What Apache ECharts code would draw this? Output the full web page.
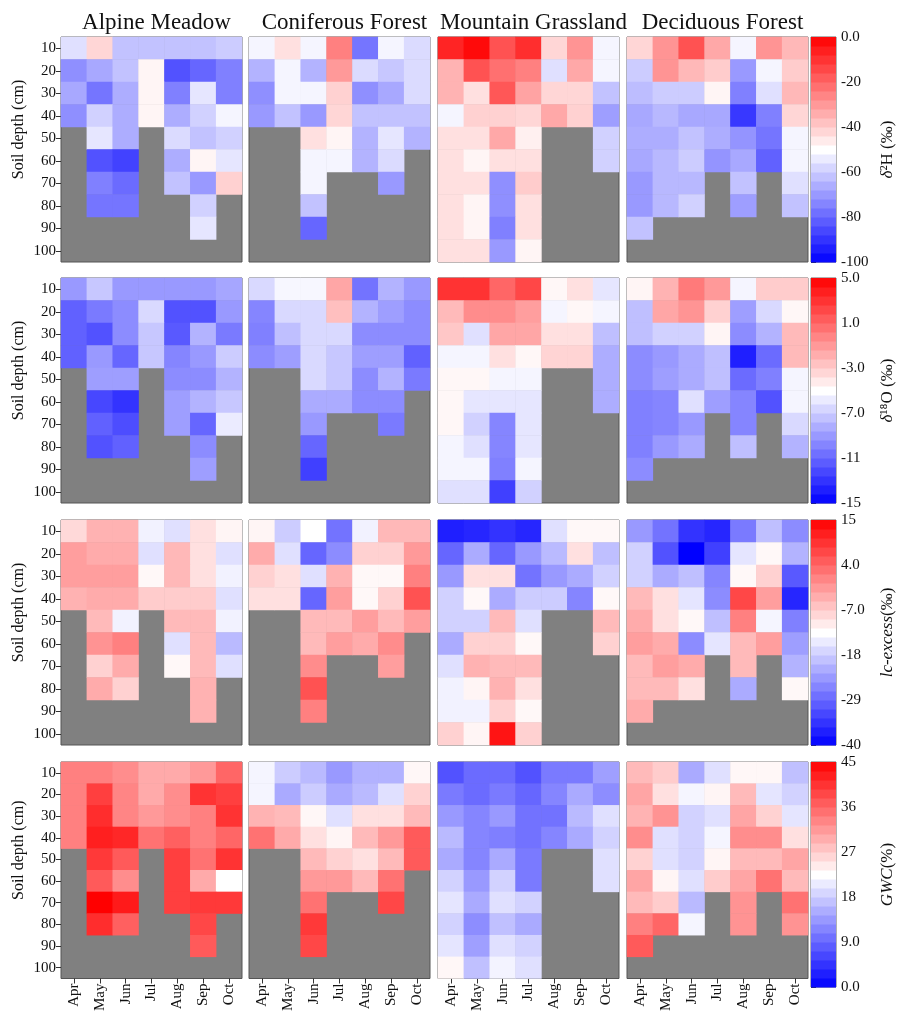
<!DOCTYPE html>
<html>
<head>
<meta charset="utf-8">
<script src="https://cdn.jsdelivr.net/npm/echarts@6/dist/echarts.min.js"></script>
<style>html,body{margin:0;padding:0;background:#fff;}#c{width:897px;height:1014px;}</style>
</head>
<body>
<div id="c"></div>
<script>
const N = null;
const months = ['Apr','May','Jun','Jul','Aug','Sep','Oct'];
const depths = ['10','20','30','40','50','60','70','80','90','100'];
const sites = ['Alpine Meadow','Coniferous Forest','Mountain Grassland','Deciduous Forest'];

// rows = depth (10..100), columns = month (Apr..Oct); null = no sample
const d2H_AM = [
[-56,-42,-62,-62,-62,-62,-60],
[-72,-67,-62,-48,-84,-80,-75],
[-67,-77,-66,-48,-75,-55,-75],
[-72,-59,-66,-48,-66,-59,-52],
[N,-55,-66,N,-57,-62,-59],
[N,-84,-87,N,-66,-48,-55],
[N,-75,-79,N,-62,-70,-41],
[N,-77,-77,N,N,-59,N],
[N,N,N,N,N,-55,N],
[N,N,N,N,N,N,N]];
const d2H_CF = [
[-52,-44,-52,-25,-77,-52,-57],
[-65,-52,-65,-30,-57,-61,-57],
[-72,-52,-52,-41,-72,-67,-57],
[-70,-62,-70,-42,-62,-62,-62],
[N,N,-44,-48,-65,-55,-65],
[N,N,-52,-52,-65,-57,N],
[N,N,-52,N,N,-70,N],
[N,N,-62,N,N,N,N],
[N,N,-80,N,N,N,N],
[N,N,N,N,N,N,N]];
const d2H_MG = [
[-7,-2,-16,-9,-42,-29,-52],
[-35,-16,-22,-25,-56,-33,-52],
[-35,-44,-17,-32,-42,-42,-62],
[-52,-41,-41,-42,-33,-41,-69],
[-44,-44,-33,-47,N,N,-59],
[-44,-48,-44,-44,N,N,-59],
[-44,-44,-72,-40,N,N,N],
[-44,-48,-72,-44,N,N,N],
[-44,-48,-75,-44,N,N,N],
[-44,-44,-70,-48,N,N,N]];
const d2H_DF = [
[-42,-29,-16,-33,-52,-29,-36],
[-60,-29,-36,-40,-70,-52,-40],
[-63,-60,-60,-48,-75,-56,-36],
[-67,-64,-67,-67,-89,-75,-42],
[-66,-66,-62,-66,-71,-77,-52],
[-67,-64,-60,-71,-67,-81,-52],
[-70,-64,-64,N,-62,N,-56],
[-70,-64,-59,N,-69,N,-62],
[-62,N,N,N,N,N,N],
[N,N,N,N,N,N,N]];

const d18O_AM = [
[-9,-7.2,-9,-9,-9,-9,-8.5],
[-11.2,-10.2,-9.5,-6.5,-11.8,-11.8,-9],
[-11.2,-11.8,-9.5,-7.2,-11.5,-8,-10.2],
[-11.2,-9,-11,-7.2,-9.8,-9,-7],
[N,-8.8,-8.8,N,-9.5,-9.5,-8],
[N,-12.2,-13,N,-8.8,-8,-7.2],
[N,-11.2,-12,N,-8.8,-11,-5.8],
[N,-11.8,-11.2,N,N,-9.5,N],
[N,N,N,N,N,-8.8,N],
[N,N,N,N,N,N,N]];
const d18O_CF = [
[-6.5,-5.3,-5.3,-1.5,-10.5,-8,-9],
[-9.8,-6.5,-6.5,-2.5,-8,-8.8,-9.5],
[-10,-7.5,-6.5,-6.5,-9.5,-9.5,-9.5],
[-9.5,-8.8,-6.5,-7.2,-8.8,-8.8,-11.2],
[N,N,-6.5,-7.2,-9.5,-8,-10.2],
[N,N,-8.3,-8.3,-9.5,-9.5,N],
[N,N,-9,N,N,-10.2,N],
[N,N,-11,N,N,N,N],
[N,N,-12.5,N,N,N,N],
[N,N,N,N,N,N,N]];
const d18O_MG = [
[3,3,1,2.2,-4.7,-3.8,-6],
[-2.3,-0.5,-0.5,-1.2,-5.4,-4.7,-5.4],
[-2.8,-6.2,-1.5,-1.5,-3.8,-3.8,-7.5],
[-5.4,-5.4,-3.8,-4.7,-3.3,-3.3,-8.2],
[-4.7,-4.7,-5.4,-5.4,N,N,-8.2],
[-4.7,-6,-6,-6,N,N,-8.2],
[-4.7,-6.8,-9.8,-6,N,N,N],
[-5.4,-6.2,-9.8,-6,N,N,N],
[-5.4,-5.4,-10,-5.4,N,N,N],
[-6.2,-6.2,-12.5,-6.8,N,N,N]];
const d18O_DF = [
[-4.6,-2,0.2,-1,-5.4,-3,-3],
[-7.5,-1.5,-0.8,-3.2,-8.8,-6.5,-4.7],
[-7.5,-6.8,-6.8,-4.6,-9.5,-8,-2.3],
[-9.5,-9,-8.3,-7.5,-13.8,-10.8,-2.3],
[-9.5,-8.8,-8.3,-7.5,-10.8,-10,-5.4],
[-10,-9.8,-6.2,-8.8,-9.8,-11.8,-5.4],
[-10,-9.8,-9,N,-9.8,N,-6.5],
[-10,-9,-8.3,N,-7.5,N,-8],
[-9.5,N,N,N,N,N,N],
[N,N,N,N,N,N,N]];

const lc_AM = [
[-8.4,-4.2,-4.2,-13.9,-15.8,-9.2,-11.4],
[-2,-3.4,-3.4,-15.8,-4.8,-9.2,-15.8],
[-2,-2,-2,-11.7,-4.8,-9.2,-13.9],
[-4.2,-3.4,-3.4,-7,-7,-7,-15.8],
[N,-5.1,-13.9,N,-5.1,-5.1,-13.9],
[N,-0.9,1.2,N,-15.8,-5.1,-19.9],
[N,-7.5,-3.4,N,-11.7,-5.1,-15.8],
[N,-3.4,-7.5,N,N,-4.2,N],
[N,N,N,N,N,-4.2,N],
[N,N,N,N,N,N,N]];
const lc_CF = [
[-11.4,-18,-12.5,-27.6,-13.9,-4.8,-4.8],
[-3.4,-15.8,-29,-24.9,-7.5,-7.5,-1.5],
[-7.5,-9.2,-15.8,-4.2,-11.7,-11.7,1.2],
[-9.2,-9.2,-29,-2,-11.7,-7.5,6.2],
[N,N,-5.1,-5.1,-2,-5.1,-2],
[N,N,-5.1,-2,-3.4,-0.1,N],
[N,N,-0.1,N,N,-2,N],
[N,N,6.2,N,N,N,N],
[N,N,1.2,N,N,N,N],
[N,N,N,N,N,N,N]];
const lc_MG = [
[-36.7,-35.9,-34.5,-35.9,-15.8,-11.7,-11.7],
[-29,-21.6,-29,-23.5,-19.9,-9.2,-19.4],
[-23.5,-9.2,-9.2,-27.6,-23.5,-21.6,-17.5],
[-17.5,-11.7,-21.6,-18,-18,-25.7,-11.7],
[-17.5,-17.5,-5.1,-15.8,N,N,-5.1],
[-21.6,-7.5,-7.5,-11.7,N,N,-7.5],
[-15.8,-4.2,-5.1,-5.1,N,N,N],
[-13.9,-11.4,-4.2,-9.2,N,N,N],
[-13.9,-13.9,-7.5,-11.7,N,N,N],
[-7.5,-11.4,12.8,-7.5,N,N,N]];
const lc_DF = [
[-23.5,-27.6,-34.5,-35.9,-26.8,-19.4,-24.9],
[-17.5,-31.2,-40,-33.1,-15.3,-11.7,-20.7],
[-17.5,-21.6,-19.4,-25.7,-11.7,-7.5,-30.4],
[-5.1,-9.2,-15.3,-24.9,7.3,-2,-35.9],
[-3.4,-9.2,-11.7,-19.4,1.2,-13.6,-26.2],
[-2,-3.4,-24.9,-15.3,-5.1,-2,-23],
[-5.1,-2,-3.4,N,-5.1,N,-20.7],
[-5.1,-5.1,-9.2,N,-21.6,N,-11.7],
[-3.4,N,N,N,N,N,N],
[N,N,N,N,N,N,N]];

const gwc_AM = [
[33.7,33.7,32.6,30,30,31.5,36],
[33.7,39.4,33.3,30,32.6,40.5,39.4],
[33.7,41,33.3,31.5,32.6,33.7,40.5],
[33.7,42.3,41.6,34.9,36.5,33.7,36],
[N,40,37.1,N,39.4,34.9,40.5],
[N,37.1,32.6,N,39.4,30,22.5],
[N,45,42.7,N,39.4,40,40],
[N,41,36.5,N,N,38.7,N],
[N,N,N,N,N,37.1,N],
[N,N,N,N,N,N,N]];
const gwc_CF = [
[21.6,18,16.4,13.5,15.7,15.7,23.2],
[21.6,15,18,15,16.4,19.8,26.5],
[29.2,28.6,23.2,19.8,25.2,25.2,28.6],
[34.9,30,25.2,23.4,28.6,31.5,37.1],
[N,N,28.6,26.5,25.2,28.6,37.1],
[N,N,31.5,31.5,28.6,34.9,N],
[N,N,34.9,N,N,38.7,N],
[N,N,40,N,N,N,N],
[N,N,38.7,N,N,N,N],
[N,N,N,N,N,N,N]];
const gwc_MG = [
[7.2,9.4,9.4,7.2,10.8,10.8,14],
[10.8,9.4,10.8,9,11.7,15,12.4],
[13.5,11.7,13.5,10.1,10.1,16.4,19.8],
[16.4,11.7,11.2,10.1,11.7,15,18.5],
[15,11.7,15,10.8,N,N,19.8],
[18.5,13.5,18.5,10.8,N,N,19.8],
[20.2,15,19.8,18.5,N,N,N],
[18.5,12.4,16.9,15,N,N,N],
[20.2,14,19.8,18.5,N,N,N],
[23.2,16.9,21.4,19.8,N,N,N]];
const gwc_DF = [
[28.6,27,15,19.8,23.2,23.2,16.9],
[30.4,25.2,21.6,23.4,28.6,20.2,18.5],
[29.2,32,18.5,19.8,30.4,26.5,20.2],
[32.6,19.8,18.5,21.6,32.6,32.6,25.2],
[26.5,19.8,18.5,23.4,28.6,28.6,30.4],
[30.4,23.4,19.8,27,30.4,34.9,28.6],
[28.6,27,16.4,N,32,N,34.9],
[33.7,36,21.6,N,32,N,32],
[37.1,N,N,N,N,N,N],
[N,N,N,N,N,N,N]];

// colour-bar scales: [min, max, interval]
const scaleD2H = [-100, 0, 20];
const scaleD18O = [-15, 5, 4];
const scaleLc = [-40, 15, 11];
const scaleGwc = [0, 45, 9];

const rowsDef = [
  {panels:[d2H_AM,d2H_CF,d2H_MG,d2H_DF], scale:scaleD2H, name:'{it|δ}²H (‰)'},
  {panels:[d18O_AM,d18O_CF,d18O_MG,d18O_DF], scale:scaleD18O, name:'{it|δ}¹⁸O (‰)'},
  {panels:[lc_AM,lc_CF,lc_MG,lc_DF], scale:scaleLc, name:'{it|lc-excess}(‰)'},
  {panels:[gwc_AM,gwc_CF,gwc_MG,gwc_DF], scale:scaleGwc, name:'{it|GWC}(%)'}
];

const FONT = "'Liberation Serif','Times New Roman',serif";
const colLeft = [61, 249, 438, 627];
const colW = 181;
const rowTop = [37, 278, 520, 762];
const rowH = 225;
const cbLeft = 811, cbW = 30;
const NBANDS = 25;

function toCells(arr){
  const out = [];
  arr.forEach((row, yi) => row.forEach((v, xi) => { if (v !== null) out.push([xi, yi, v]); }));
  return out;
}
function fmt(v){ return Math.abs(v) >= 10 ? String(Math.round(v)) : v.toFixed(1); }

const option = {
  animation: false,
  backgroundColor: '#ffffff',
  title: sites.map((s, c) => ({
    text: s, left: colLeft[c] + colW/2, top: 6, textAlign: 'center',
    textStyle: {fontFamily: FONT, fontSize: 23, fontWeight: 'normal', color: '#111'}
  })),
  grid: [], xAxis: [], yAxis: [], series: [], visualMap: []
};

rowsDef.forEach((rd, r) => {
  rd.panels.forEach((arr, c) => {
    const gi = r*4 + c;
    option.grid.push({left: colLeft[c], top: rowTop[r], width: colW, height: rowH, show: true,
      backgroundColor: '#808080', borderColor: '#555', borderWidth: 1});
    option.xAxis.push({type: 'category', gridIndex: gi, data: months,
      axisLine: {show: false},
      axisTick: {show: r === 3, length: 5, alignWithLabel: true, lineStyle: {color: '#333'}},
      axisLabel: {show: r === 3, rotate: 90, fontSize: 15, fontFamily: FONT, color: '#111', margin: 5},
      splitLine: {show: false}});
    option.yAxis.push({type: 'category', gridIndex: gi, data: depths, inverse: true,
      axisLine: {show: false},
      axisTick: {show: c === 0, length: 5, alignWithLabel: true, lineStyle: {color: '#333'}},
      axisLabel: {show: c === 0, fontSize: 15, fontFamily: FONT, color: '#111', margin: 5},
      splitLine: {show: false},
      name: c === 0 ? 'Soil depth (cm)' : '', nameLocation: 'middle', nameGap: 34,
      nameTextStyle: {fontFamily: FONT, fontSize: 16, color: '#111', padding: [0, 0, 0, 40]}});
    option.series.push({type: 'heatmap', xAxisIndex: gi, yAxisIndex: gi, data: toCells(arr),
      emphasis: {disabled: true}, itemStyle: {borderWidth: 0}});
  });
});

rowsDef.forEach((rd, r) => {
  const gi = 16 + r;
  const [mn, mx, iv] = rd.scale;
  option.grid.push({left: cbLeft, top: rowTop[r], width: cbW, height: rowH, show: true,
    backgroundColor: 'transparent', borderColor: '#666', borderWidth: 1});
  option.xAxis.push({type: 'value', gridIndex: gi, min: 0, max: 1, show: false});
  option.yAxis.push({type: 'value', gridIndex: gi, position: 'right', min: mn, max: mx, interval: iv,
    axisLine: {show: false},
    axisTick: {show: true, length: 5, lineStyle: {color: '#333'}},
    axisLabel: {fontSize: 15, fontFamily: FONT, color: '#111', margin: 5, formatter: fmt,
      showMinLabel: true, showMaxLabel: true},
    splitLine: {show: false},
    name: rd.name, nameLocation: 'middle', nameRotate: 90, nameGap: 43,
    nameTextStyle: {fontFamily: FONT, fontSize: 17, color: '#111',
      rich: {it: {fontFamily: FONT, fontSize: 17, fontStyle: 'italic', color: '#111'}}}});
  const step = (mx - mn) / NBANDS;
  const bands = [];
  for (let i = 0; i < NBANDS; i++) { const lo = mn + i*step; bands.push([lo, lo + step, lo + step/2]); }
  option.series.push({type: 'custom', xAxisIndex: gi, yAxisIndex: gi, data: bands,
    encode: {x: -1, y: [0, 1]},
    renderItem: (params, api) => {
      const p1 = api.coord([0, api.value(1)]);
      const p2 = api.coord([1, api.value(0)]);
      return {type: 'rect', shape: {x: p1[0], y: p1[1], width: p2[0]-p1[0], height: p2[1]-p1[1] + 0.5},
        style: {fill: api.visual('color')}};
    }});
  option.visualMap.push({type: 'continuous', show: false, min: mn, max: mx, dimension: 2,
    seriesIndex: [r*4, r*4+1, r*4+2, r*4+3, 16 + r],
    inRange: {color: ['#0000ff', '#ffffff', '#ff0000']}});
});

const chart = echarts.init(document.getElementById('c'), null, {renderer: 'canvas'});
chart.setOption(option);
</script>
</body>
</html>
